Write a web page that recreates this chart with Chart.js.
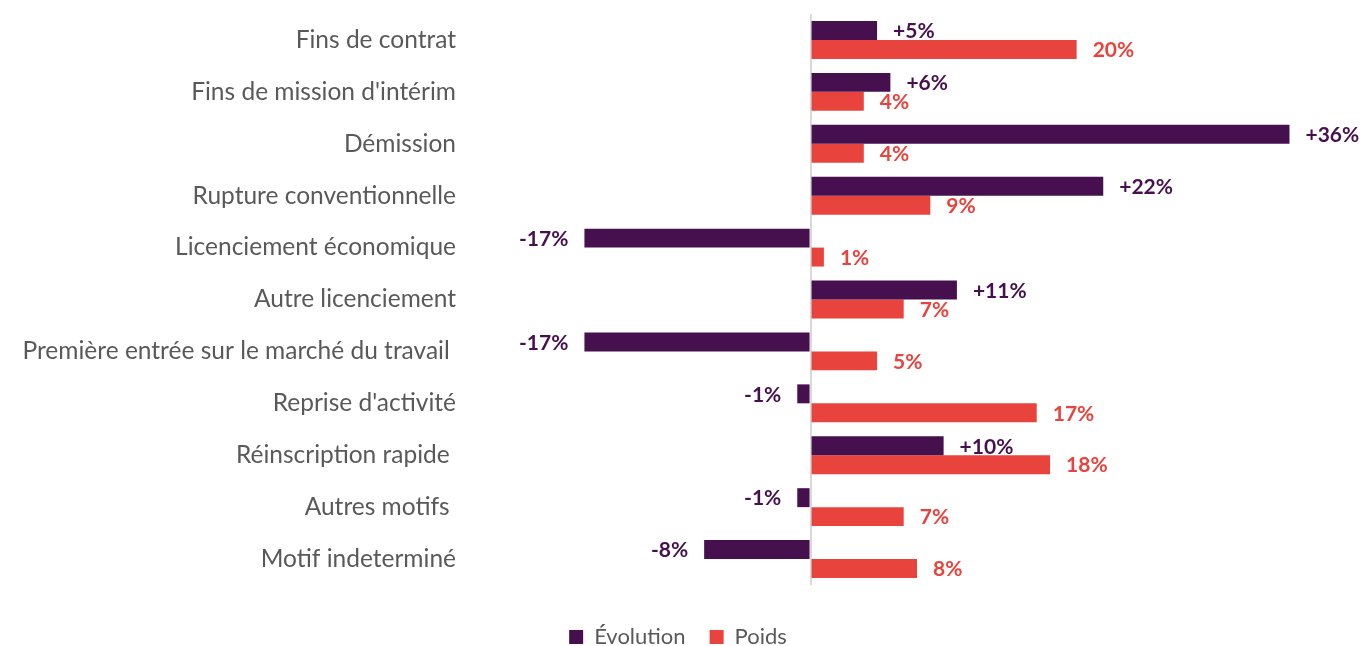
<!DOCTYPE html>
<html lang="fr">
<head>
<meta charset="utf-8">
<title>Motifs d'inscription</title>
<script src="https://cdn.jsdelivr.net/npm/chart.js@4"></script>
<style>
  html, body { margin: 0; padding: 0; background: #fff; overflow: hidden; }
  #wrap { width: 1372px; height: 660px; position: relative; }
</style>
</head>
<body>
<div id="wrap"><canvas id="motifChart"></canvas></div>
<script>
const categories = [
  'Fins de contrat',
  "Fins de mission d'intérim",
  'Démission',
  'Rupture conventionnelle',
  'Licenciement économique',
  'Autre licenciement',
  'Première entrée sur le marché du travail ',
  "Reprise d'activité",
  'Réinscription rapide ',
  'Autres motifs ',
  'Motif indeterminé'
];
const evolution = [5, 6, 36, 22, -17, 11, -17, -1, 10, -1, -8];
const poids = [20, 4, 4, 9, 1, 7, 5, 17, 18, 7, 8];

const PURPLE = '#46104f';
const RED = '#e8433c';
const GREY = '#595959';

// value labels next to each bar end
const barLabels = {
  id: 'barLabels',
  afterDatasetsDraw(chart){
    const ctx = chart.ctx;
    ctx.save();
    ctx.font = 'bold 21px Lato, sans-serif';
    ctx.textBaseline = 'middle';
    chart.data.datasets.forEach((ds, di) => {
      const meta = chart.getDatasetMeta(di);
      meta.data.forEach((bar, i) => {
        const v = ds.data[i];
        let txt = v + '%';
        if(di === 0 && v > 0) txt = '+' + txt;
        ctx.fillStyle = ds.backgroundColor;
        if(v >= 0){
          ctx.textAlign = 'left';
          ctx.fillText(txt, bar.x + 16, bar.y + 1);
        } else {
          ctx.textAlign = 'right';
          ctx.fillText(txt, bar.x - 16, bar.y + 1);
        }
      });
    });
    ctx.restore();
  }
};

new Chart(document.getElementById('motifChart'), {
  type: 'bar',
  data: {
    labels: categories,
    datasets: [
      { label: 'Évolution', data: evolution, backgroundColor: PURPLE },
      { label: 'Poids', data: poids, backgroundColor: RED }
    ]
  },
  options: {
    indexAxis: 'y',
    responsive: true,
    maintainAspectRatio: false,
    animation: false,
    layout: { padding: { top: 14, right: 16, bottom: 2, left: 0 } },
    datasets: {
      bar: { categoryPercentage: 0.73, barPercentage: 1 }
    },
    scales: {
      x: {
        min: -25,
        max: 41,
        afterFit: s => { s.height = 17; },
        ticks: { display: false },
        border: { display: false },
        grid: {
          drawTicks: false,
          lineWidth: 2,
          color: c => c.tick && c.tick.value === 0 ? '#d9d9d9' : 'rgba(0,0,0,0)'
        }
      },
      y: {
        afterFit: s => { s.width = 478; s.paddingTop = 0; s.paddingBottom = 0; },
        border: { display: false },
        grid: { display: false, drawTicks: false },
        ticks: {
          padding: 22,
          color: GREY,
          font: { family: 'Lato, sans-serif', size: 24.5 }
        }
      }
    },
    plugins: {
      tooltip: { enabled: false },
      legend: {
        position: 'bottom',
        labels: {
          boxWidth: 14,
          boxHeight: 14,
          padding: 24,
          color: GREY,
          font: { family: 'Lato, sans-serif', size: 22 }
        }
      }
    }
  },
  plugins: [barLabels]
});
</script>
</body>
</html>
